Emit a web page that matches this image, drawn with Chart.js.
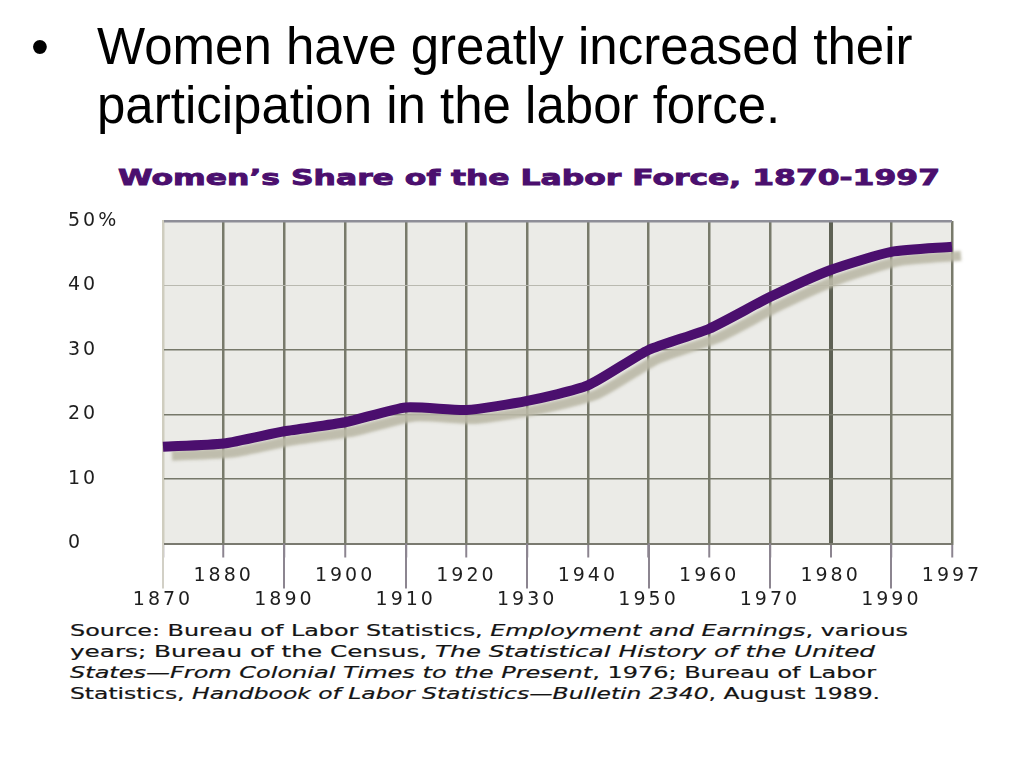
<!DOCTYPE html>
<html>
<head>
<meta charset="utf-8">
<script src="https://cdn.jsdelivr.net/npm/chart.js@4"></script>
<style>
  html, body { margin: 0; padding: 0; background: #fff; }
  body { width: 1024px; height: 768px; position: relative; overflow: hidden; }
  .bullet { position: absolute; left: 31px; top: 17px; font: 51px/59px "Liberation Sans", Arial, sans-serif; color: #000; }
  .heading { position: absolute; left: 97px; top: 17px; font: 51px/59px "Liberation Sans", Arial, sans-serif; color: #000; white-space: nowrap; }
  .chart-title { position: absolute; left: 118px; top: 163px; font: bold 22px/30px "DejaVu Sans", sans-serif; color: #4b0f6e; white-space: nowrap; -webkit-text-stroke: 0.9px #4b0f6e; }
  .fit { display: inline-block; transform-origin: 0 0; white-space: nowrap; }
  .source { position: absolute; left: 70px; top: 620px; font: 16px/21px "DejaVu Sans", sans-serif; color: #141414; -webkit-text-stroke: 0.2px #141414; }
  #wrap { position: absolute; left: 0; top: 200px; width: 1000px; height: 430px; }
</style>
</head>
<body>
<div class="bullet">•</div>
<div class="heading">Women have greatly increased their<br>participation in the labor force.</div>
<div class="chart-title"><span class="fit" data-w="822">Women’s Share of the Labor Force, 1870-1997</span></div>
<div class="source">
  <div><span class="fit" data-w="838">Source: Bureau of Labor Statistics, <i>Employment and Earnings</i>, various</span></div>
  <div><span class="fit" data-w="805">years; Bureau of the Census, <i>The Statistical History of the United</i></span></div>
  <div><span class="fit" data-w="806"><i>States—From Colonial Times to the Present</i>, 1976; Bureau of Labor</span></div>
  <div><span class="fit" data-w="810">Statistics, <i>Handbook of Labor Statistics—Bulletin 2340</i>, August 1989.</span></div>
</div>
<div id="wrap"><canvas id="chartShare" width="1000" height="430"></canvas></div>

<script>
// Data
const years = ["1870", "1880", "1890", "1900", "1910", "1920", "1930",
  "1940", "1950", "1960", "1970", "1980", "1990", "1997"];
const womenShare = [15.0, 15.5, 17.4, 18.8, 21.1, 20.7, 22.1,
  24.5, 30.0, 33.3, 38.2, 42.4, 45.2, 46.0];
const yTicks = [0, 10, 20, 30, 40, 50];

document.addEventListener("DOMContentLoaded", function () {
  // Stretch the HTML text lines to the widths seen in the picture
  document.querySelectorAll(".fit").forEach(function (el) {
    const target = parseFloat(el.dataset.w);
    const w = el.getBoundingClientRect().width;
    el.style.transform = "scaleX(" + (target / w) + ")";
  });

  const tickFont = { family: "DejaVu Sans", size: 19, lineHeight: 1.25 };

  // plot background, wide tick lettering, line shadow, long ticks
  const decorPlugin = {
    id: "decor",
    beforeUpdate: function (chart) {
      chart.ctx.letterSpacing = "3px";
    },
    beforeDraw: function (chart) {
      const ctx = chart.ctx;
      const a = chart.chartArea;
      ctx.letterSpacing = "3px";
      ctx.save();
      ctx.fillStyle = "#ebebe7";
      ctx.fillRect(a.left, a.top, a.right - a.left, a.bottom - a.top);
      ctx.restore();
    },
    beforeDatasetsDraw: function (chart) {
      const ctx = chart.ctx;
      ctx.save();
      ctx.shadowColor = "rgba(186, 184, 166, 0.9)";
      ctx.shadowBlur = 3;
      ctx.shadowOffsetX = 9;
      ctx.shadowOffsetY = 9;
    },
    afterDatasetsDraw: function (chart) {
      chart.ctx.restore();
    },
    afterDraw: function (chart) {
      // the ticks under the lower row of year labels run further down
      const ctx = chart.ctx;
      const x = chart.scales.x;
      ctx.save();
      ctx.lineWidth = 2;
      for (let i = 0; i < years.length; i += 2) {
        const px = Math.round(x.getPixelForTick(i));
        ctx.strokeStyle = i === 0 ? "#d2d0c6" : "#8c8590";
        ctx.beginPath();
        ctx.moveTo(px, x.top);
        ctx.lineTo(px, x.top + 45);
        ctx.stroke();
      }
      ctx.restore();
    },
  };

  const ctx = document.getElementById("chartShare").getContext("2d");
  const chartShare = new Chart(ctx, {
    type: "line",
    data: {
      labels: years,
      datasets: [
        {
          label: "Women's share of the labor force",
          data: womenShare,
          borderColor: "#4b0f6e",
          borderWidth: 10,
          borderCapStyle: "butt",
          borderJoinStyle: "round",
          pointRadius: 0,
          tension: 0.2,
          fill: false,
          clip: false,
        },
      ],
    },
    options: {
      responsive: false,
      animation: false,
      layout: {
        padding: { left: 68, right: 48, top: 21, bottom: 11 },
      },
      scales: {
        x: {
          offset: false,
          grid: {
            color: function (c) {
              if (c.index === 0) return "#cfcdbf";
              if (c.index === 11) return "#5e6154";
              return "#787a6b";
            },
            lineWidth: function (c) {
              return c.index === 11 ? 4 : 2.5;
            },
            tickColor: "#8c8590",
            tickWidth: 2,
            tickLength: 14,
          },
          border: { color: "#7a7a70", width: 2 },
          ticks: {
            autoSkip: false,
            maxRotation: 0,
            padding: 7,
            color: "#1e1e1e",
            font: tickFont,
            callback: function (value, index) {
              const label = years[index];
              return index % 2 === 0 ? ["", label] : [label];
            },
          },
        },
        y: {
          min: 0,
          max: 50,
          afterFit: function (scale) {
            scale.width = 95;
          },
          afterBuildTicks: function (scale) {
            scale.ticks = yTicks.map(function (v) { return { value: v }; });
          },
          grid: {
            drawTicks: false,
            color: function (c) {
              const v = c.tick ? c.tick.value : 0;
              if (v === 50) return "#8e8e98";
              if (v === 40) return "#b9b9b0";
              return "#76786a";
            },
            lineWidth: function (c) {
              const v = c.tick ? c.tick.value : 0;
              return v === 40 ? 1 : v === 50 ? 2.5 : 1.5;
            },
          },
          border: { color: "#cfcdbf", width: 2 },
          ticks: {
            crossAlign: "far",
            padding: 0,
            color: "#1e1e1e",
            font: tickFont,
            callback: function (value) {
              return value === 50 ? "50%" : String(value);
            },
          },
        },
      },
      plugins: {
        legend: { display: false },
        tooltip: { enabled: false },
      },
    },
    plugins: [decorPlugin],
  });
});
</script>
</body>
</html>
